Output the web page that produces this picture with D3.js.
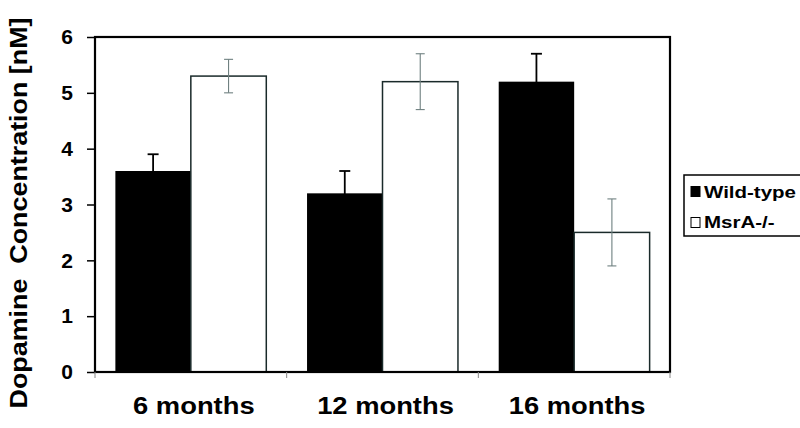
<!DOCTYPE html>
<html lang="en">
<head>
    <meta charset="UTF-8">
    <title>Dopamine Concentration</title>
    <script src="https://d3js.org/d3.v7.min.js"></script>
    <style>
        body { margin: 0; background: #fff; }
        text { font-family: Arial, "Liberation Sans", sans-serif; font-weight: bold; fill: #000; }
    </style>
</head>
<body>
    <svg width="800" height="428"></svg>
    <script>
        const categories = ["6 months", "12 months", "16 months"];
        const series = ["Wild-type", "MsrA-/-"];
        const wildType = [3.6, 3.2, 5.2];
        const wildTypeErr = [0.3, 0.4, 0.5];
        const msrA = [5.3, 5.2, 2.5];
        const msrAErr = [0.3, 0.5, 0.6];
        const yTicks = [0, 1, 2, 3, 4, 5, 6];

        const svg = d3.select("svg");
        const plotL = 95, plotR = 670, plotT = 37, plotB = 372;

        const x = d3.scaleBand().domain(categories).range([plotL, plotR]);
        const x1 = d3.scaleBand().domain(series).range([0, x.bandwidth()]).paddingOuter(0.27);
        const y = d3.scaleLinear().domain([0, 6]).range([plotB, plotT]);

        const rows = categories.map((c, i) => [
            { cat: c, key: series[0], v: wildType[i], e: wildTypeErr[i] },
            { cat: c, key: series[1], v: msrA[i], e: msrAErr[i] }
        ]).flat();

        // bars
        svg.append("g").selectAll("rect")
            .data(rows)
            .join("rect")
            .attr("x", d => x(d.cat) + x1(d.key))
            .attr("y", d => y(d.v))
            .attr("width", x1.bandwidth())
            .attr("height", d => y(0) - y(d.v))
            .attr("fill", d => d.key === series[0] ? "#000" : "#fff")
            .attr("stroke", d => d.key === series[0] ? "none" : "#1a2a2a")
            .attr("stroke-width", 1.5);

        // error bars
        const eb = svg.append("g").selectAll("g")
            .data(rows)
            .join("g")
            .attr("stroke", d => d.key === series[0] ? "#000" : "#6f8080")
            .attr("stroke-width", d => d.key === series[0] ? 1.8 : 1.1);
        const cx = d => x(d.cat) + x1(d.key) + x1.bandwidth() / 2;
        const capW = d => d.key === series[0] ? 5.5 : 4.5;
        eb.append("line")
            .attr("x1", cx).attr("x2", cx)
            .attr("y1", d => y(d.v - d.e)).attr("y2", d => y(d.v + d.e));
        [d => d.v + d.e, d => d.v - d.e].forEach(f => {
            eb.append("line")
                .attr("x1", d => cx(d) - capW(d)).attr("x2", d => cx(d) + capW(d))
                .attr("y1", d => y(f(d))).attr("y2", d => y(f(d)));
        });

        // plot frame
        svg.append("rect")
            .attr("x", plotL).attr("y", plotT)
            .attr("width", plotR - plotL).attr("height", plotB - plotT)
            .attr("fill", "none").attr("stroke", "#000").attr("stroke-width", 2.2);

        // y axis
        const yAxis = svg.append("g")
            .attr("transform", `translate(${plotL},0)`)
            .call(d3.axisLeft(y).tickValues(yTicks).tickSize(8).tickPadding(14).tickFormat(d3.format("d")));
        yAxis.select(".domain").remove();
        yAxis.selectAll("line").attr("stroke", "#000").attr("stroke-width", 1.5);
        yAxis.selectAll("text").style("font-size", "21px").style("font-family", "Arial, 'Liberation Sans', sans-serif").style("font-weight", "bold");

        // x axis
        const xTickPos = [plotL, ...categories.slice(1).map(c => x(c)), plotR];
        svg.append("g").selectAll("line")
            .data(xTickPos)
            .join("line")
            .attr("x1", d => d).attr("x2", d => d)
            .attr("y1", plotB).attr("y2", plotB + 6)
            .attr("stroke", "#888").attr("stroke-width", 1);
        svg.append("g").selectAll("text")
            .data(categories)
            .join("text")
            .attr("transform", d => `translate(${x(d) + x.bandwidth() / 2 + 3},414) scale(1.14,1)`)
            .attr("text-anchor", "middle")
            .style("font-size", "24px")
            .text(d => d);

        // y label
        svg.append("text")
            .attr("transform", "translate(27,213) rotate(-90) scale(1.12,1)")
            .attr("text-anchor", "middle")
            .style("font-size", "24px")
            .attr("xml:space", "preserve")
            .text("Dopamine  Concentration [nM]");

        // legend
        const lg = svg.append("g").attr("transform", "translate(684,175)");
        lg.append("rect").attr("x", 0).attr("y", 0).attr("width", 130).attr("height", 61)
            .attr("fill", "#fff").attr("stroke", "#000").attr("stroke-width", 1.5);
        series.forEach((s, i) => {
            lg.append("rect")
                .attr("x", 7).attr("y", 11.5 + i * 31).attr("width", 9).attr("height", 10)
                .attr("fill", i === 0 ? "#000" : "#fff")
                .attr("stroke", "#000").attr("stroke-width", 1);
            lg.append("text")
                .attr("transform", `translate(20,${23 + i * 30}) scale(1.28,1)`)
                .style("font-size", "16px")
                .text(s);
        });
    </script>
</body>
</html>
